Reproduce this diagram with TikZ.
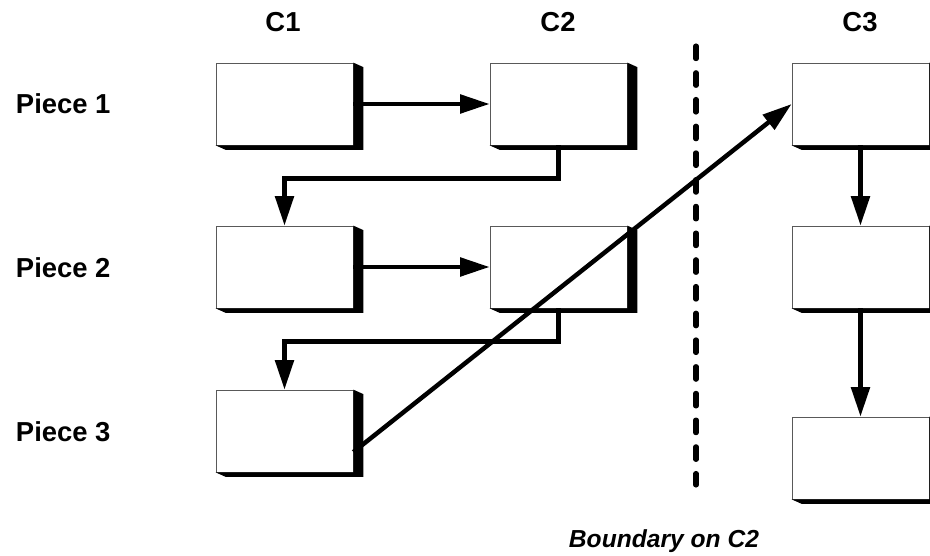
\documentclass[tikz,border=0pt]{standalone}
\usepackage{fontspec}
\setmainfont{Liberation Sans}
\usetikzlibrary{arrows.meta, positioning}

\tikzset{
  piecebox/.style={draw=gray!70!black, line width=0.5pt, fill=white,
    minimum width=3.425cm, minimum height=2.05cm, inner sep=0pt},
  flow/.style={line width=3.2pt, -{Triangle[length=21pt,width=13pt]}},
  lbl/.style={font=\fontsize{19.5}{23}\selectfont\bfseries},
  boundary/.style={line width=3.6pt, dash pattern=on 9pt off 10pt, line cap=round}
}

% 方框右下的阴影
\newcommand{\boxshadow}[1]{%
  \fill (#1.north east) -- ++(10,4.5) -- ([shift={(10,4.5)}]#1.south east)
    -- ([shift={(10,4.5)}]#1.south west) -- (#1.south west)
    -- (#1.south east) -- cycle;}

\begin{document}
\begin{tikzpicture}[x=0.025cm, y=-0.025cm]
        % 画布大小
        \clip (0,0) rectangle (930,556);
        % 列标题
        \node[lbl] (colC1) at (283,22) {C1};
        \node[lbl] (colC2) at (558,22) {C2};
        \node[lbl] (colC3) at (860,22) {C3};
        % 行标题
        \node[lbl, anchor=west] (pieceA) at (11,104) {Piece 1};
        \node[lbl, anchor=west] (pieceB) at (11,268) {Piece 2};
        \node[lbl, anchor=west] (pieceC) at (11,432) {Piece 3};
        % 各列的方框
        \node[piecebox] (c1r1) at (284.5,104) {};
        \node[piecebox] (c1r2) at (284.5,267) {};
        \node[piecebox] (c1r3) at (284.5,431) {};
        \node[piecebox] (c2r1) at (558.5,104) {};
        \node[piecebox] (c2r2) at (558.5,267) {};
        \node[piecebox] (c3r1) at (860.5,104) {};
        \node[piecebox] (c3r2) at (860.5,267) {};
        \node[piecebox] (c3r3) at (860.5,458) {};
        \foreach \b in {c1r1,c1r2,c1r3,c2r1,c2r2,c3r1,c3r2,c3r3}
          \boxshadow{\b};
        % 边界虚线
        \coordinate (bTop) at (696,46);
        \coordinate (bEnd) at (696,485);
        \draw[boundary] (bTop) -- (bEnd);
        \node[font=\fontsize{17.5}{21}\selectfont\bfseries\itshape] (bLabel) at (664,541) {Boundary on C2};
        % 箭头
        \draw[flow] (c1r1.east) -- (c2r1.west);
        \draw[flow] (c1r2.east) -- (c2r2.west);
        \draw[flow] (c2r1.south) -- ++(0,33) -| (c1r2.north);
        \draw[flow] (c2r2.south) -- ++(0,33) -| (c1r3.north);
        \draw[flow] ([yshift=-0.525cm]c1r3.east) -- (c3r1.west);
        \draw[flow] (c3r1.south) -- (c3r2.north);
        \draw[flow] (c3r2.south) -- (c3r3.north);
    \end{tikzpicture}
\end{document}
